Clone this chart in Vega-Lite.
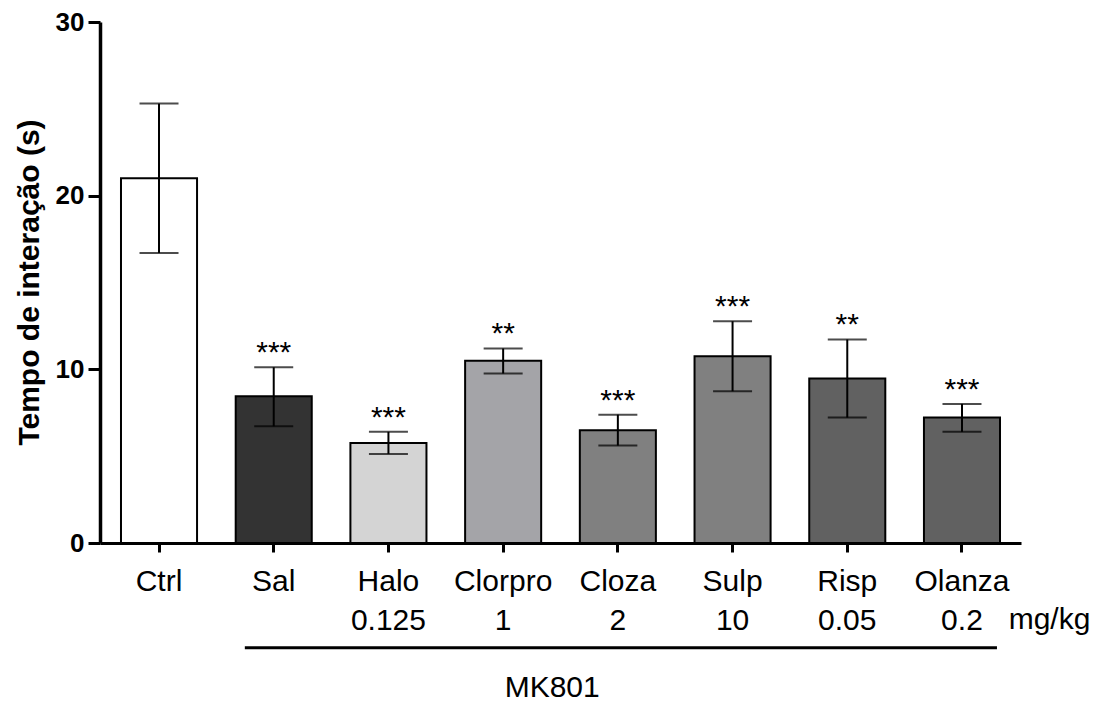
{
  "$schema": "https://vega.github.io/schema/vega-lite/v6.json",
  "width": 921,
  "height": 521,
  "autosize": {"type": "none"},
  "padding": {"left": 100, "top": 22, "right": 80, "bottom": 159},
  "background": "white",
  "config": {"view": {"stroke": null}, "font": "Liberation Sans"},
  "data": {"values": [
    {"grupo": "Ctrl", "media": 21.0, "lo": 16.7, "hi": 25.3, "sig": ""},
    {"grupo": "Sal", "media": 8.45, "lo": 6.72, "hi": 10.12, "sig": "***"},
    {"grupo": "Halo 0.125", "media": 5.76, "lo": 5.13, "hi": 6.4, "sig": "***"},
    {"grupo": "Clorpro 1", "media": 10.49, "lo": 9.76, "hi": 11.2, "sig": "**"},
    {"grupo": "Cloza 2", "media": 6.49, "lo": 5.61, "hi": 7.39, "sig": "***"},
    {"grupo": "Sulp 10", "media": 10.75, "lo": 8.74, "hi": 12.77, "sig": "***"},
    {"grupo": "Risp 0.05", "media": 9.47, "lo": 7.22, "hi": 11.72, "sig": "**"},
    {"grupo": "Olanza 0.2", "media": 7.22, "lo": 6.4, "hi": 8.01, "sig": "***"}
  ]},
  "encoding": {
    "x": {
      "field": "grupo", "type": "nominal", "sort": null,
      "scale": {"paddingInner": 0.337, "paddingOuter": 0.183},
      "axis": {
        "labelExpr": "split(datum.value, ' ')",
        "labelAngle": 0,
        "labelFontSize": 30,
        "labelColor": "black",
        "labelPadding": 14,
        "labelLineHeight": 39,
        "labelBaseline": "top",
        "domainColor": "black",
        "domainWidth": 3,
        "tickColor": "black",
        "tickWidth": 3,
        "tickSize": 9,
        "grid": false,
        "title": "mg/kg",
        "titleFontSize": 30,
        "titleFontWeight": "normal",
        "titleColor": "black",
        "titleX": 949,
        "titleY": 76,
        "titleAlign": "center",
        "titleBaseline": "middle"
      }
    }
  },
  "layer": [
    {
      "mark": {"type": "bar", "stroke": "black", "strokeWidth": 2},
      "encoding": {
        "y": {
          "field": "media", "type": "quantitative",
          "scale": {"domain": [0, 30], "nice": false},
          "axis": {
            "values": [0, 10, 20, 30],
            "title": "Tempo de interação (s)",
            "titleFontSize": 30,
            "titleFontWeight": "bold",
            "titleColor": "black",
            "titleX": -71,
            "titleY": 260,
            "titleAngle": 270,
            "titleAlign": "center",
            "titleBaseline": "middle",
            "labelFontSize": 26,
            "labelFontWeight": "bold",
            "labelColor": "black",
            "labelPadding": 4,
            "domainColor": "black",
            "domainWidth": 3.5,
            "tickColor": "black",
            "tickWidth": 3,
            "tickSize": 12,
            "grid": false
          }
        },
        "color": {
          "field": "grupo", "type": "nominal", "sort": null, "legend": null,
          "scale": {
            "domain": ["Ctrl", "Sal", "Halo 0.125", "Clorpro 1", "Cloza 2", "Sulp 10", "Risp 0.05", "Olanza 0.2"],
            "range": ["#ffffff", "#333333", "#d4d4d4", "#a4a4a8", "#808080", "#808080", "#616161", "#616161"]
          }
        }
      }
    },
    {
      "mark": {"type": "rule", "color": "black", "strokeWidth": 2},
      "encoding": {
        "y": {"field": "lo", "type": "quantitative", "scale": {"domain": [0, 30], "nice": false}},
        "y2": {"field": "hi"}
      }
    },
    {
      "mark": {"type": "tick", "color": "black", "size": 39, "thickness": 2},
      "encoding": {
        "y": {"field": "lo", "type": "quantitative", "scale": {"domain": [0, 30], "nice": false}}
      }
    },
    {
      "mark": {"type": "tick", "color": "black", "size": 39, "thickness": 2},
      "encoding": {
        "y": {"field": "hi", "type": "quantitative", "scale": {"domain": [0, 30], "nice": false}}
      }
    },
    {
      "mark": {"type": "text", "fontSize": 30, "color": "black", "baseline": "alphabetic", "dy": -5},
      "encoding": {
        "y": {"field": "hi", "type": "quantitative", "scale": {"domain": [0, 30], "nice": false}},
        "text": {"field": "sig"}
      }
    },
    {
      "data": {"values": [{}]},
      "mark": {"type": "rule", "color": "black", "strokeWidth": 3},
      "encoding": {
        "x": {"datum": "Sal", "bandPosition": 0.12},
        "x2": {"datum": "Olanza 0.2", "bandPosition": 0.96},
        "y": {"datum": -6.03, "type": "quantitative", "scale": {"domain": [0, 30], "nice": false}}
      }
    },
    {
      "data": {"values": [{"rotulo": "MK801"}]},
      "mark": {"type": "text", "fontSize": 30, "color": "black", "baseline": "middle", "align": "center"},
      "encoding": {
        "x": {"datum": "Clorpro 1", "bandPosition": 1.145},
        "y": {"datum": -8.34, "type": "quantitative", "scale": {"domain": [0, 30], "nice": false}},
        "text": {"field": "rotulo"}
      }
    }
  ]
}
